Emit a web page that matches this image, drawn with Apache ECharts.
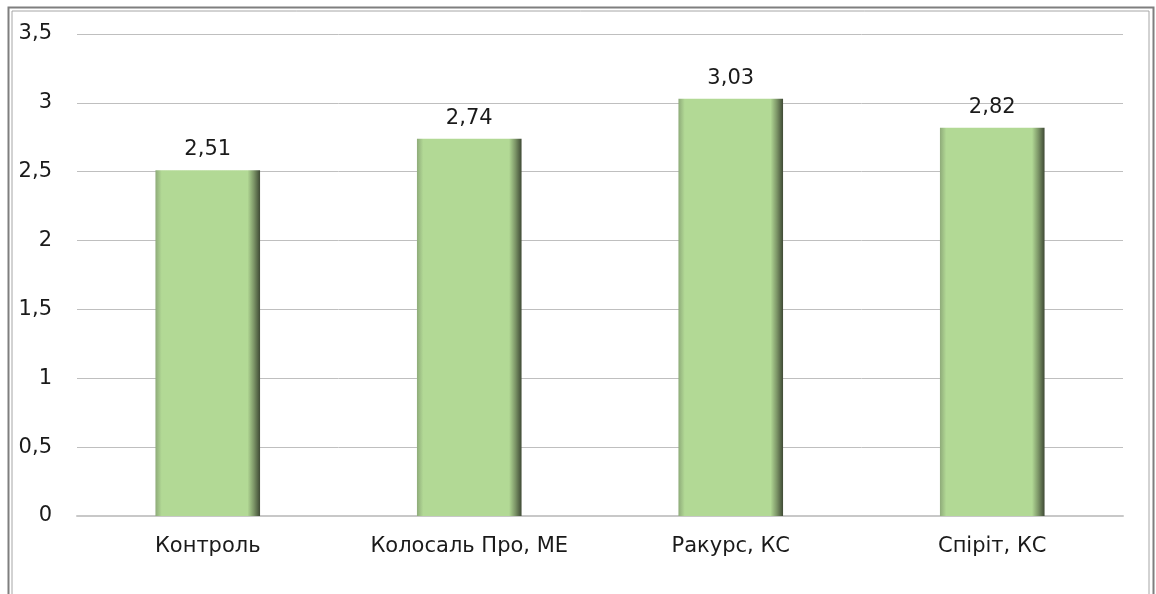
<!DOCTYPE html>
<html>
<head>
<meta charset="utf-8">
<script src="https://cdn.jsdelivr.net/npm/echarts@6/dist/echarts.min.js"></script>
<style>
  html, body { margin: 0; padding: 0; background: #fff; }
  #main { width: 1156px; height: 594px; }
</style>
</head>
<body>
<div id="main"></div>
<script>
var categories = ['Контроль', 'Колосаль Про, МЕ', 'Ракурс, КС', 'Спіріт, КС'];
var values = [2.51, 2.74, 3.03, 2.82];
var yTicks = [0, 0.5, 1, 1.5, 2, 2.5, 3, 3.5];

var myChart = echarts.init(document.getElementById('main'));

function comma(v) {
    return String(v).replace('.', ',');
}

var barColor = new echarts.graphic.LinearGradient(0, 0, 1, 0, [
    {offset: 0, color: '#8eab79'},
    {offset: 0.06, color: '#b2d995'},
    {offset: 0.88, color: '#b2d995'},
    {offset: 0.94, color: '#7d9668'},
    {offset: 1, color: '#3f4a35'}
]);

var option = {
    animation: false,
    textStyle: {fontFamily: 'DejaVu Sans'},
    graphic: [
        {
            type: 'rect',
            shape: {x: 8.5, y: 7.5, width: 1145, height: 600},
            style: {fill: 'none', stroke: '#7f7f7f', lineWidth: 2}
        },
        {
            type: 'rect',
            shape: {x: 12, y: 11, width: 1137, height: 600},
            style: {fill: 'none', stroke: '#a6a6a6', lineWidth: 1}
        }
    ],
    grid: {left: 77, right: 33, top: 34, bottom: 78},
    xAxis: {
        type: 'category',
        data: categories,
        axisLine: {show: true, lineStyle: {color: '#c8c8c8', width: 2}},
        axisTick: {show: false},
        axisLabel: {color: '#1a1a1a', fontSize: 21, margin: 20}
    },
    yAxis: {
        type: 'value',
        min: yTicks[0],
        max: yTicks[yTicks.length - 1],
        interval: 0.5,
        axisLine: {show: false},
        axisTick: {show: false},
        splitLine: {lineStyle: {color: '#bfbfbf', width: 1}},
        axisLabel: {color: '#1a1a1a', fontSize: 21, margin: 25, formatter: comma}
    },
    series: [
        {
            type: 'bar',
            data: values,
            barWidth: '40%',
            itemStyle: {color: barColor},
            label: {
                show: true,
                position: 'top',
                distance: 10,
                color: '#1a1a1a',
                fontSize: 21,
                formatter: function (p) { return comma(p.value); }
            }
        }
    ]
};
myChart.setOption(option);
</script>
</body>
</html>
